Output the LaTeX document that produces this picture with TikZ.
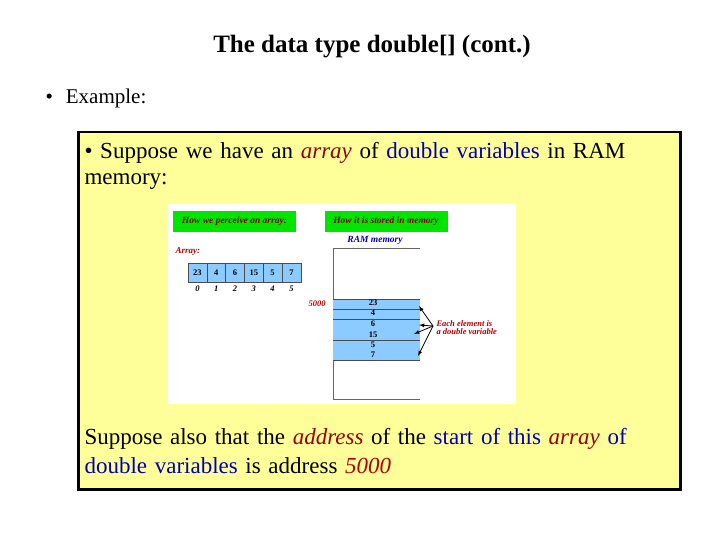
\documentclass[tikz,border=0pt]{standalone}
\usepackage{fontspec}
\setmainfont{Liberation Serif}
\definecolor{sky}{HTML}{8CCBFF}
\definecolor{lyel}{HTML}{FFFF99}
\begin{document}
\begin{tikzpicture}[x=1pt,y=-1pt,
  cell/.style={draw=black!70,fill=sky,minimum width=18.8pt,minimum height=19pt,inner sep=0pt,font=\fontsize{8.5}{9}\selectfont\bfseries},
  idx/.style={font=\fontsize{8.5}{9}\selectfont\bfseries\itshape},
  mem/.style={font=\fontsize{8.5}{9}\selectfont\bfseries},
  gbox/.style={fill=green!90!black,minimum width=123pt,minimum height=21pt,inner sep=0pt,text=red!50!black,font=\fontsize{9.5}{10}\selectfont\bfseries\itshape},
  arr/.style={-latex,thick}]
\useasboundingbox (0,0) rectangle (720,540);
\node[font=\fontsize{25}{30}\selectfont\bfseries] (title) at (372,47) {The data type double[] (cont.)};
\node[anchor=west,font=\fontsize{21}{24}\selectfont] (ex) at (42,98) {•\hspace{13pt}Example:};
\node[draw=black,line width=2.5pt,fill=lyel,minimum width=602pt,minimum height=357pt,anchor=north west,inner sep=0pt] (outer) at (77,131) {};
\node[anchor=north west,align=left,text width=590pt,font=\fontsize{23}{26}\selectfont] (t1) at (81,139) {• Suppose we have an {\color{red!60!black}\itshape array} of {\color{blue!70!black}double variables} in RAM\\memory:};
\node[anchor=north west,align=left,text width=590pt,font=\fontsize{23}{29}\selectfont] (t2) at (81,425) {Suppose also that the {\color{red!60!black}\itshape address} of the {\color{blue!70!black}start of this} {\color{red!60!black}\itshape array} {\color{blue!70!black}of}\\{\color{blue!70!black}double variables} is address {\color{red!70!black}\itshape 5000}};
\node[fill=white,minimum width=348pt,minimum height=200pt,anchor=north west,inner sep=0pt] (img) at (168,204) {};
\node[gbox] (g1) at (234.5,221.5) {How we perceive an array:};
\node[gbox] (g2) at (386,221.5) {How it is stored in memory};
\node[font=\fontsize{9.5}{10}\selectfont\bfseries\itshape,text=blue!70!black] (ram) at (375,240) {RAM memory};
\node[font=\fontsize{9}{10}\selectfont\bfseries\itshape,text=red!70!black,anchor=west] (arrl) at (172,252) {Array:};
\foreach \v/\i [count=\k from 0] in {23/0,4/1,6/2,15/3,5/4,7/5}{
  \node[cell] (c\k) at ({197.4+18.8*\k},272.5) {\v};
  \node[idx] (i\k) at ({197.4+18.8*\k},289) {\i};
}
\draw[black!60] (420,248) -- (333,248) -- (333,399.5) -- (420,399.5);
\fill[sky] (333,298.7) rectangle (420,360);
\foreach \y in {298.7,308.7,319.3,340,360} \draw[black!70] (333,\y) -- (420,\y);
\foreach \v/\y in {23/303,4/313,6/324,15/335,5/345,7/355} \node[mem] at (373,\y) {\v};
\node[font=\fontsize{8.5}{9}\selectfont\bfseries\itshape,text=red!70!black] (addr) at (317,304) {5000};
\node[align=left,anchor=west,font=\fontsize{8.5}{8}\selectfont\bfseries\itshape,text=red!70!black] (each) at (433,328) {Each element is\\a double variable};
\coordinate (h) at (433,326);
\coordinate (a1) at (419,306);
\coordinate (a2) at (419,325);
\coordinate (a3) at (414,334);
\coordinate (a4) at (418,356);
\foreach \a in {a1,a2,a3,a4} \draw[arr] (h) -- (\a);
\end{tikzpicture}
\end{document}
